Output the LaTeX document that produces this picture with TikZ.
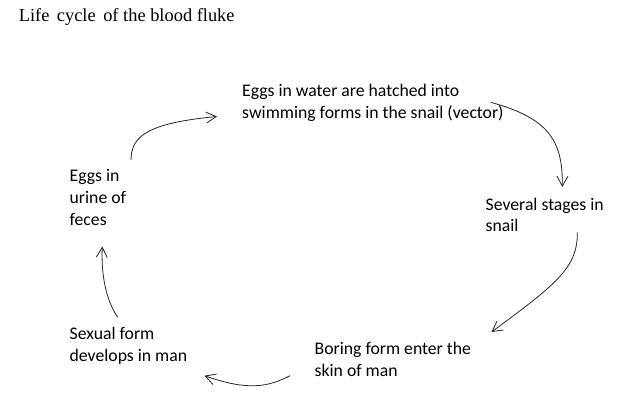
\documentclass[tikz,border=0pt]{standalone}
\usepackage{fontspec}
\setmainfont{Carlito}
\newfontfamily\titlefont{Liberation Serif}
\usetikzlibrary{arrows.meta}
\tikzset{
  lbl/.style={anchor=base west, inner sep=0pt, align=left, font=\fontsize{17.7}{21.7}\selectfont, text=black},
  ttl/.style={anchor=base west, inner sep=0pt, font=\titlefont\fontsize{18.4}{22}\selectfont, text=black},
  cyc/.style={draw=black!85, line width=0.8pt, -{Straight Barb[length=10pt,width=11pt]}},
}
\begin{document}
\begin{tikzpicture}[x=1pt,y=-1pt]
\useasboundingbox[fill=white] (0,0) rectangle (638,415);
\node[ttl] (title) at (18.6,21.7) {Life\hspace{7.5pt}cycle\hspace{7.5pt}of the blood fluke};
\node[lbl] (hatch) at (242,118.3) {Eggs in water are hatched into\\swimming forms in the snail (vector)};
\node[lbl] (snail) at (485.5,231.9) {Several stages in\\snail};
\node[lbl] (boring) at (314.5,376) {Boring form enter the\\skin of man};
\node[lbl] (sexual) at (69.5,361) {Sexual form\\develops in man};
\node[lbl] (eggs) at (69.5,225) {Eggs in\\urine of\\feces};
\coordinate (a1s) at (131,160);   \coordinate (a1e) at (217,116.5);
\coordinate (a2s) at (490.7,102.3); \coordinate (a2e) at (562.3,187);
\coordinate (a3s) at (577.3,232.3); \coordinate (a3e) at (491.5,332);
\coordinate (a4s) at (290,375.7); \coordinate (a4e) at (204.5,375.7);
\coordinate (a5s) at (117.7,317.3); \coordinate (a5e) at (102.3,246.5);
\draw[cyc] (a1s) .. controls (131,135) and (150,123) .. (a1e);
\draw[cyc] (a2s) .. controls (548,118) and (563,140) .. (a2e);
\draw[cyc] (a3s) .. controls (578,268) and (555,285) .. (a3e);
\draw[cyc] (a4s) .. controls (268,387) and (248,391) .. (a4e);
\draw[cyc] (a5s) .. controls (106,300) and (101,275) .. (a5e);
\end{tikzpicture}
\end{document}
